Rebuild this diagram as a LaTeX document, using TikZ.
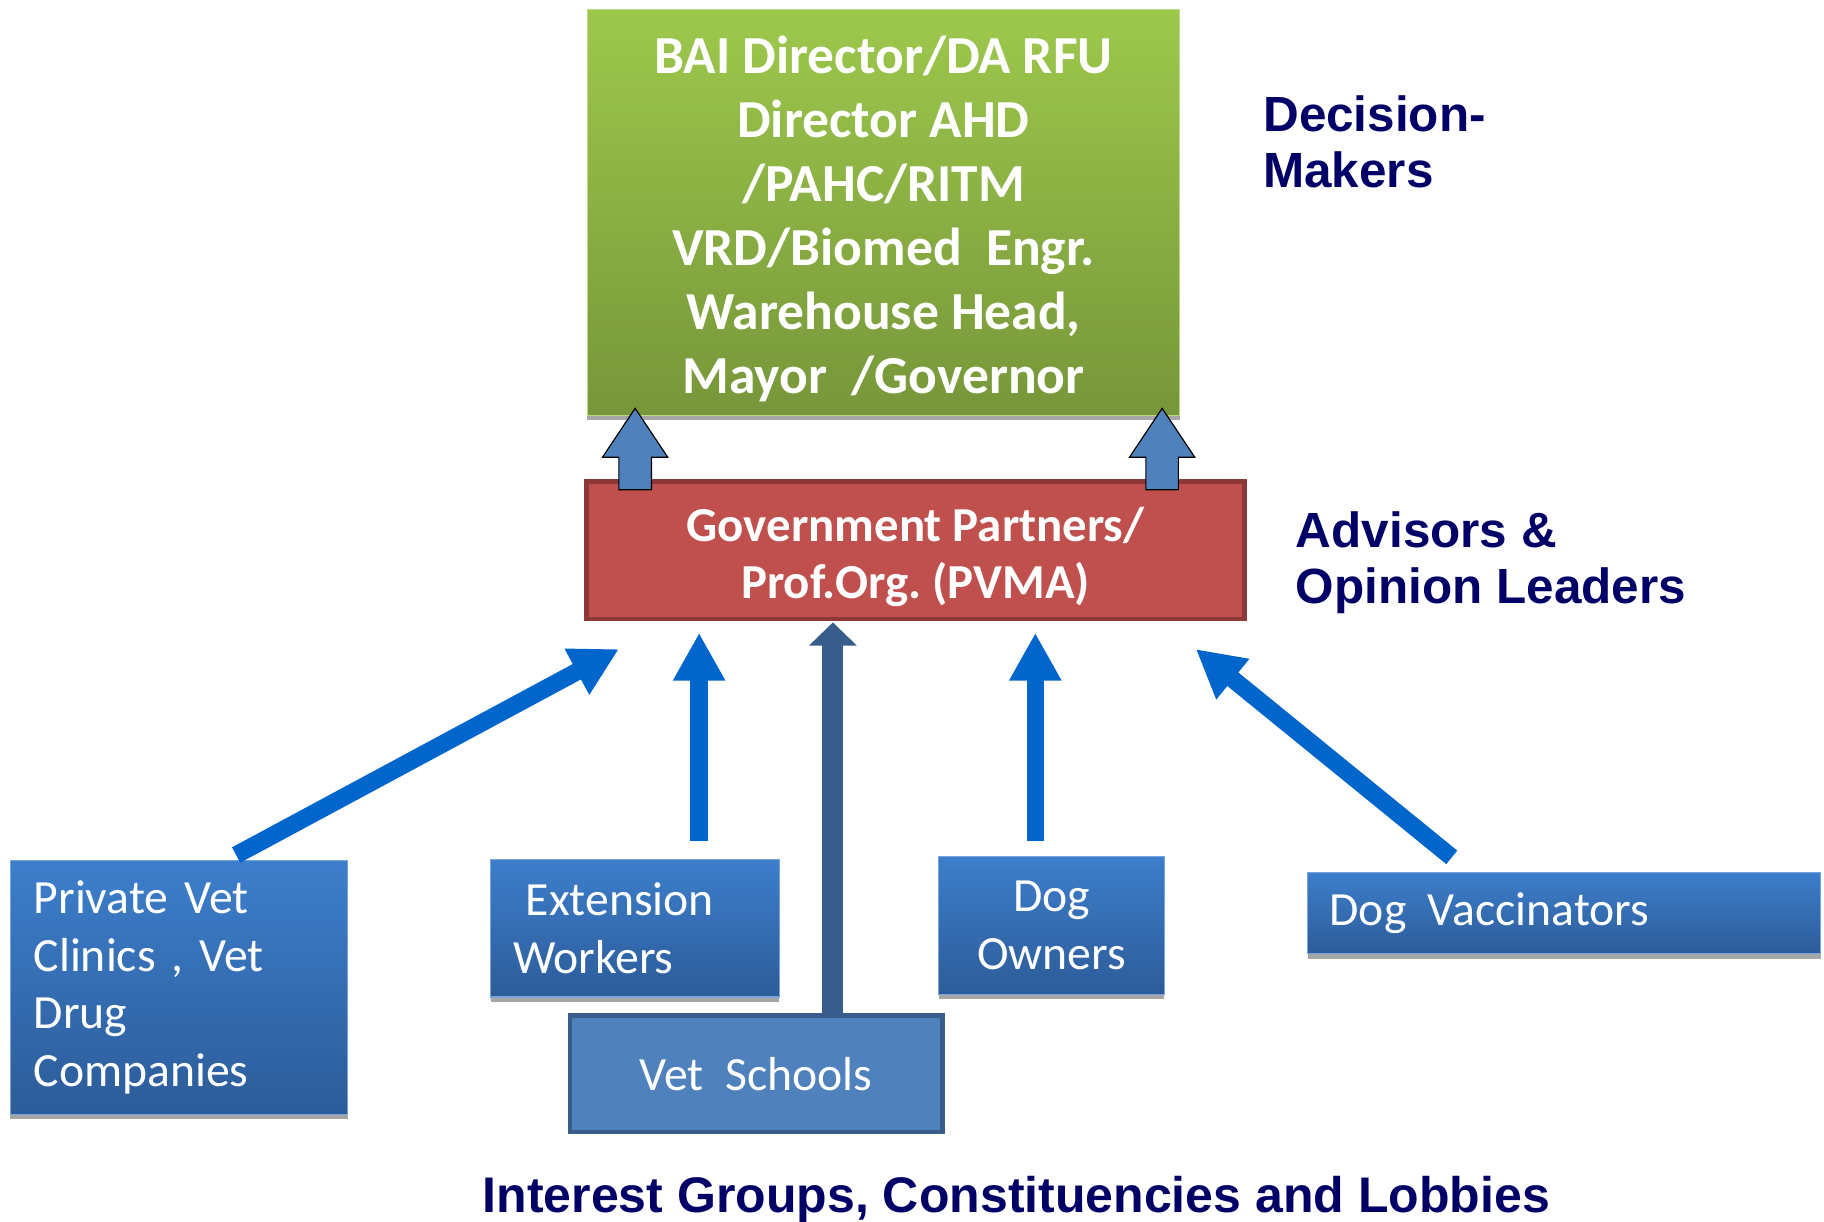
\documentclass[tikz,border=0pt]{standalone}
\usepackage{fontspec}
\setmainfont{Carlito}
\newfontfamily\labelfont{Liberation Sans}
\usetikzlibrary{positioning, arrows.meta, calc, shadows}
\frenchspacing

\definecolor{decgreentop}{HTML}{9DC84C}
\definecolor{decgreenbot}{HTML}{77963A}
\definecolor{govred}{HTML}{C0504D}
\definecolor{govredline}{HTML}{8C3836}
\definecolor{grptop}{HTML}{3D7ECB}
\definecolor{grpbot}{HTML}{2C5C99}
\definecolor{schoolfill}{HTML}{4F81BD}
\definecolor{schoolline}{HTML}{385D8A}
\definecolor{arrowblue}{HTML}{0066CC}
\definecolor{navy}{HTML}{000066}

\begin{document}
\begin{tikzpicture}[
    x=1pt, y=-1pt,
    every node/.style={outer sep=0pt},
    boxshadow/.style={drop shadow={shadow xshift=0pt, shadow yshift=-4pt, fill=black!35, opacity=1}},
    decbox/.style={boxshadow, anchor=north west, top color=decgreentop, bottom color=decgreenbot, draw=decgreentop!70!white, line width=1pt, text=white, align=center, font=\fontsize{46}{55}\selectfont\bfseries},
    govbox/.style={anchor=north west, fill=govred, draw=govredline, line width=4pt, text=white, align=center, font=\fontsize{42}{49}\selectfont\bfseries},
    groupbox/.style={boxshadow, anchor=north west, top color=grptop, bottom color=grpbot, draw=grptop!70!white, line width=1pt, text=white, font=\fontsize{41}{49.5}\selectfont},
    schoolbox/.style={anchor=north west, fill=schoolfill, draw=schoolline, line width=4pt, text=white, font=\fontsize{41}{49}\selectfont},
    tier/.style={anchor=base west, text=navy, align=left, inner sep=0pt, font=\labelfont\fontsize{42.5}{48}\selectfont\bfseries},
    influence/.style={arrowblue, line width=15pt, -{Triangle[width=42pt, length=41pt]}},
    blockarrow/.style={draw=black, fill=schoolfill, line width=1pt, line join=miter}
]
    \useasboundingbox (0,0) rectangle (1568,1050);

    % TIERS
    \node[decbox, minimum width=509, minimum height=349, text height=318pt] (decide) at (505,8) {BAI Director/DA RFU\\Director AHD\\/PAHC/RITM\\VRD/Biomed\ \ Engr.\\Warehouse Head,\\Mayor\ \ /Governor};
    \node[govbox, minimum width=566, minimum height=118, text height=90pt] (gov) at (504,414) {Government Partners/\\Prof.Org. (PVMA)};

    % INTEREST GROUPS
    \node[groupbox, minimum width=290, minimum height=218, inner xsep=20pt, text width=250pt, align=left] (private) at (9,740) {Private Vet\\Clinics , Vet\\Drug\\Companies};
    \node[groupbox, minimum width=248, minimum height=118, inner xsep=19pt, text width=210pt, align=left] (extension) at (422,739) {\hspace*{11pt}Extension\\Workers};
    \node[groupbox, minimum width=194, minimum height=119, align=center] (owners) at (807,736) {Dog\\Owners};
    \node[groupbox, minimum width=441, minimum height=70, inner xsep=19pt, text width=403pt, align=left] (vaccinators) at (1124,750) {Dog\hspace{0.45em}Vaccinators};
    \node[schoolbox, minimum width=320, minimum height=100] (schools) at (490,873) {Vet\ \ Schools};

    % LABELS
    \node[tier] (decisionlbl) at (1086,161) {Decision-\\Makers};
    \node[tier] (advisorlbl) at (1114,519) {Advisors \&\\Opinion Leaders};
    \node[tier, font=\labelfont\fontsize{43}{48}\selectfont\bfseries] (interestlbl) at (415,1042) {Interest Groups, Constituencies and Lobbies};

    % ARROWS
    \foreach \dx in {42, 495} {
        \draw[blockarrow] ([xshift=\dx pt, yshift=-7pt]gov.north west) ++(-14,0) -- ++(0,-28) -- ++(-14,0) -- ++(28,-42) -- ++(28,42) -- ++(-14,0) -- ++(0,28) -- cycle;
    }

    \draw[influence] ([xshift=49pt, yshift=5pt]private.north) -- ([xshift=28pt, yshift=-26pt]gov.south west);
    \draw[influence] ([xshift=55pt, yshift=16pt]extension.north) -- ([xshift=97pt, yshift=-12pt]gov.south west);
    \draw[influence] ([xshift=-14pt, yshift=13pt]owners.north) -- ([xshift=386pt, yshift=-12pt]gov.south west);
    \draw[influence] ([xshift=124pt, yshift=13pt]vaccinators.north west) -- ([xshift=-42pt, yshift=-26pt]gov.south east);
    \draw[schoolline, line width=18pt, -{Triangle[width=40pt, length=20pt]}] ([xshift=66pt, yshift=-2pt]schools.north) -- ([xshift=212pt, yshift=-3pt]gov.south west);

\end{tikzpicture}
\end{document}
